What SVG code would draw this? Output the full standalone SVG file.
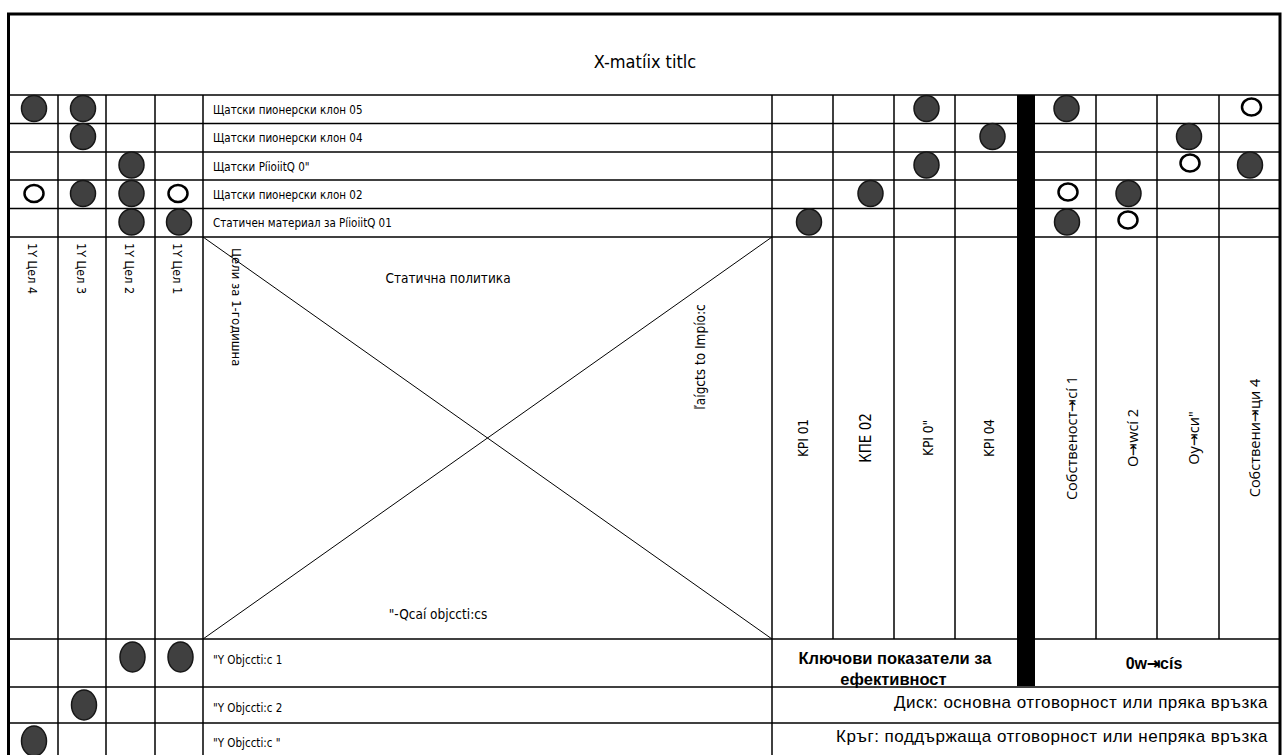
<svg xmlns="http://www.w3.org/2000/svg" width="1283" height="755" viewBox="0 0 1283 755">
  <style>
    .ln { stroke: #000; stroke-width: 1.5; }
    .frame { fill: none; stroke: #000; stroke-width: 3; }
    .diag { stroke: #000; stroke-width: 1; }
    .dot { fill: #404040; stroke: #161616; stroke-width: 1.5; }
    .ring { fill: #fff; stroke: #000; stroke-width: 2.5; }
    .n { font-family: "Liberation Sans Narrow", "DejaVu Sans Condensed", "Open Sans", sans-serif; fill: #000; }
    .o { font-family: "Open Sans", "Noto Sans", sans-serif; fill: #000; }
    .a { font-family: "Liberation Sans", Arial, sans-serif; fill: #000; }
    .row { font-size: 11.5px; }
    .vc { dominant-baseline: central; }
    .mid { text-anchor: middle; }
    .legend { font-size: 17px; letter-spacing: 0.5px; text-anchor: end; }
  </style>

  <rect width="1283" height="755" fill="#fff"/>

  <!-- grid -->
  <g id="grid">
    <rect class="frame" x="8.5" y="14" width="1271.5" height="760"/>
    <g class="ln">
      <line x1="8" y1="95" x2="1280" y2="95"/>
      <line x1="8" y1="123.5" x2="1280" y2="123.5"/>
      <line x1="8" y1="152" x2="1280" y2="152"/>
      <line x1="8" y1="180" x2="1280" y2="180"/>
      <line x1="8" y1="208.5" x2="1280" y2="208.5"/>
      <line x1="8" y1="237" x2="1280" y2="237"/>
      <line x1="8" y1="639" x2="1280" y2="639"/>
      <line x1="8" y1="687" x2="1280" y2="687"/>
      <line x1="8" y1="723" x2="1280" y2="723"/>
      <line x1="58" y1="95" x2="58" y2="757"/>
      <line x1="106" y1="95" x2="106" y2="757"/>
      <line x1="155" y1="95" x2="155" y2="757"/>
      <line x1="203" y1="95" x2="203" y2="757"/>
      <line x1="772" y1="95" x2="772" y2="757"/>
      <line x1="833" y1="95" x2="833" y2="639"/>
      <line x1="894" y1="95" x2="894" y2="639"/>
      <line x1="955" y1="95" x2="955" y2="639"/>
      <line x1="1096" y1="95" x2="1096" y2="639"/>
      <line x1="1157" y1="95" x2="1157" y2="639"/>
      <line x1="1219" y1="95" x2="1219" y2="639"/>
    </g>
    <rect x="1017" y="95" width="18" height="591" fill="#000"/>
  </g>

  <!-- the X in the central field -->
  <g id="connectors">
    <line class="diag" x1="203" y1="237" x2="772" y2="639"/>
    <line class="diag" x1="772" y1="237" x2="203" y2="639"/>
  </g>

  <g id="title">
    <text class="n mid" x="645" y="68" font-size="18">X-matíix titlc</text>
  </g>

  <!-- row labels -->
  <g id="rows" class="n row">
    <text x="213" y="113.5">Щатски пионерски клон 05</text>
    <text x="213" y="142">Щатски пионерски клон 04</text>
    <text x="213" y="170.5">Щатски PíioiitQ 0"</text>
    <text x="213" y="198.5">Щатски пионерски клон 02</text>
    <text x="213" y="227">Статичен материал за PíioiitQ 01</text>
  </g>

  <!-- yearly goal columns -->
  <g id="goals" class="n vc" font-size="12.5">
    <text transform="translate(32,243) rotate(90)">1Y Цел 4</text>
    <text transform="translate(81,243) rotate(90)">1Y Цел 3</text>
    <text transform="translate(129,243) rotate(90)">1Y Цел 2</text>
    <text transform="translate(177,243) rotate(90)">1Y Цел 1</text>
    <text transform="translate(236,248) rotate(90)" font-size="13">Цели за 1-годишна</text>
  </g>

  <!-- quadrant captions -->
  <g id="quadrants" class="n" font-size="13.5">
    <text class="mid" x="448" y="283">Статична политика</text>
    <text class="mid" x="438" y="619">"-Qcaí objccti:cs</text>
    <text class="mid vc" transform="translate(700,357) rotate(-90)">ľaígcts to Impío:c</text>
  </g>

  <!-- KPI columns -->
  <g id="kpis" class="n mid vc" font-size="13.5">
    <text transform="translate(803,438) rotate(-90)">KPI 01</text>
    <text transform="translate(866,438) rotate(-90)" font-size="15">КПЕ 02</text>
    <text transform="translate(928,438) rotate(-90)">KPI 0"</text>
    <text transform="translate(989,438) rotate(-90)">KPI 04</text>
  </g>

  <!-- owner columns -->
  <g id="owners" class="o mid vc" font-size="14.5">
    <text transform="translate(1071,438) rotate(-90)">Собственост⇥cí 1</text>
    <text transform="translate(1132,438) rotate(-90)">O⇥wcí 2</text>
    <text transform="translate(1193,438) rotate(-90)">Oy⇥си"</text>
    <text transform="translate(1254,438) rotate(-90)">Собствени⇥ци 4</text>
  </g>

  <!-- annual objectives -->
  <g id="objectives" class="n row">
    <text x="213" y="664">"Y Objccti:c 1</text>
    <text x="213" y="711.5">"Y Objccti:c 2</text>
    <text x="213" y="747">"Y Objccti:c "</text>
  </g>

  <!-- footer captions -->
  <g id="footer" class="a">
    <text class="mid" x="895" y="664" font-size="16.5" font-weight="bold">Ключови показатели за</text>
    <text class="mid" x="893.5" y="685" font-size="16.5" font-weight="bold">ефективност</text>
    <text class="mid" x="1154" y="669" font-size="16" font-weight="bold">0w⇥cís</text>
    <text class="legend" x="1268" y="708">Диск: основна отговорност или пряка връзка</text>
    <text class="legend" x="1268" y="741.5">Кръг: поддържаща отговорност или непряка връзка</text>
  </g>

  <!-- relationship marks -->
  <g id="marks">
    <ellipse class="dot" cx="34" cy="108.5" rx="12.5" ry="13"/>
    <ellipse class="dot" cx="83" cy="108.5" rx="12.5" ry="13"/>
    <ellipse class="dot" cx="83" cy="136.5" rx="12.5" ry="13"/>
    <ellipse class="dot" cx="131.5" cy="165" rx="12.5" ry="13"/>
    <ellipse class="ring" cx="34" cy="193.5" rx="9.5" ry="8.5"/>
    <ellipse class="dot" cx="83" cy="193.5" rx="12.5" ry="13"/>
    <ellipse class="dot" cx="131.5" cy="193.5" rx="12.5" ry="13"/>
    <ellipse class="ring" cx="178" cy="193.5" rx="9.5" ry="8.5"/>
    <ellipse class="dot" cx="131.5" cy="222" rx="12.5" ry="13"/>
    <ellipse class="dot" cx="179" cy="222" rx="12.5" ry="13"/>

    <ellipse class="dot" cx="926.5" cy="108.5" rx="12.5" ry="13"/>
    <ellipse class="dot" cx="1066.5" cy="108.5" rx="12.5" ry="13"/>
    <ellipse class="ring" cx="1251.5" cy="107" rx="9.5" ry="8.5"/>
    <ellipse class="dot" cx="992.5" cy="136.5" rx="12.5" ry="13"/>
    <ellipse class="dot" cx="1189" cy="136.5" rx="12.5" ry="13"/>
    <ellipse class="dot" cx="926.5" cy="165" rx="12.5" ry="13"/>
    <ellipse class="ring" cx="1190" cy="163" rx="9.5" ry="8.5"/>
    <ellipse class="dot" cx="1250" cy="165" rx="12.5" ry="13"/>
    <ellipse class="dot" cx="870.5" cy="193.5" rx="12.5" ry="13"/>
    <ellipse class="ring" cx="1068" cy="192" rx="9.5" ry="8.5"/>
    <ellipse class="dot" cx="1128.5" cy="193.5" rx="12.5" ry="13"/>
    <ellipse class="dot" cx="809" cy="222" rx="12.5" ry="13"/>
    <ellipse class="dot" cx="1067" cy="222" rx="12.5" ry="13"/>
    <ellipse class="ring" cx="1128" cy="220" rx="9.5" ry="8.5"/>

    <ellipse class="dot" cx="132.5" cy="657" rx="12.5" ry="15"/>
    <ellipse class="dot" cx="180.5" cy="657" rx="12.5" ry="15"/>
    <ellipse class="dot" cx="84" cy="705" rx="12.5" ry="15"/>
    <ellipse class="dot" cx="34" cy="741" rx="12.5" ry="15"/>
  </g>
</svg>
